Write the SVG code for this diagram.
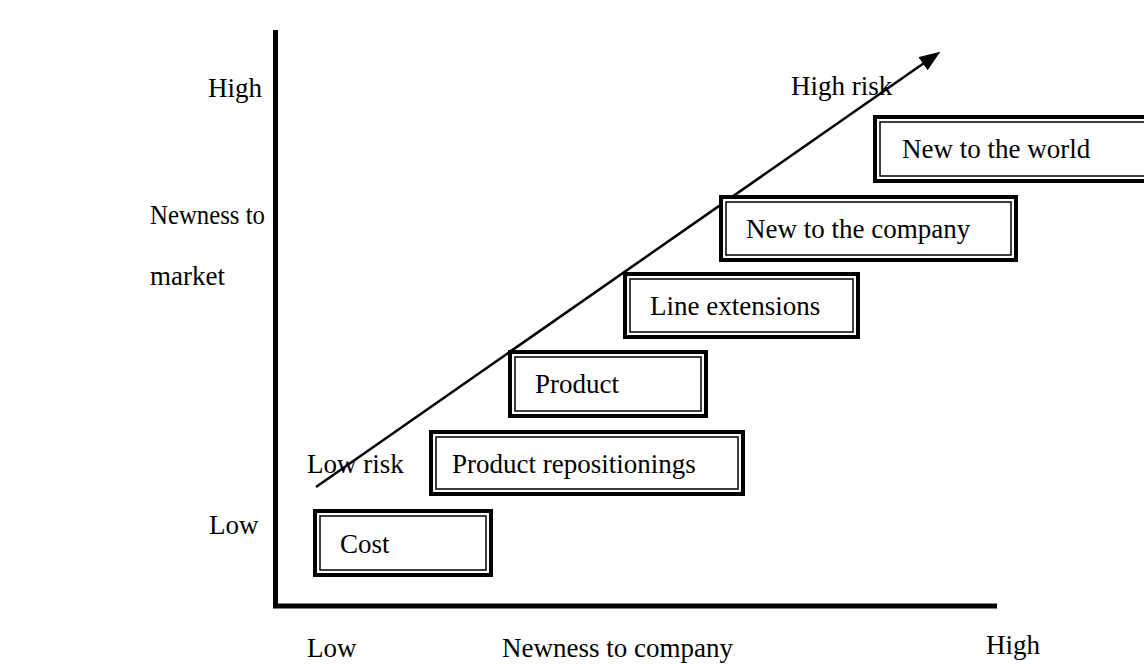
<svg xmlns="http://www.w3.org/2000/svg" width="1144" height="664" viewBox="0 0 1144 664">
  <style>
    text { font-family: "Liberation Serif", "Times New Roman", serif; font-size: 27px; fill: #000; }
    .outer { fill: #fff; stroke: #000; stroke-width: 4; }
    .inner { fill: none; stroke: #000; stroke-width: 1.5; }
    .axis { stroke: #000; stroke-width: 5; fill: none; }
    .trend { stroke: #000; stroke-width: 2.5; fill: none; }
  </style>
  <defs>
    <marker id="arrowhead" markerUnits="userSpaceOnUse" markerWidth="24" markerHeight="18" refX="17" refY="8" orient="auto">
      <path d="M0,0 L21,8 L0,16 z" fill="#000"/>
    </marker>
  </defs>
  <rect width="1144" height="664" fill="#fff"/>

  <!-- axes and axis labels -->
  <g id="axes">
    <path class="axis" d="M275.5,30 V606 H997"/>
    <text x="208" y="97">High</text>
    <text x="209" y="534">Low</text>
    <text x="150" y="224" textLength="115" lengthAdjust="spacingAndGlyphs">Newness to</text>
    <text x="150" y="285">market</text>
    <text x="307" y="657">Low</text>
    <text x="502" y="657">Newness to company</text>
    <text x="986" y="654">High</text>
  </g>

  <!-- risk trend arrow -->
  <g id="connectors">
    <line class="trend" x1="316" y1="487" x2="937" y2="54" marker-end="url(#arrowhead)"/>
    <text x="791" y="95">High risk</text>
    <text x="307" y="473">Low risk</text>
  </g>

  <!-- innovation categories: double-bordered boxes -->
  <g id="cost">
    <rect class="outer" x="315" y="511" width="176" height="64"/>
    <rect class="inner" x="320" y="516" width="166" height="54"/>
    <text x="340" y="553">Cost</text>
  </g>
  <g id="product-repositionings">
    <rect class="outer" x="431" y="432" width="312" height="62"/>
    <rect class="inner" x="436" y="437" width="302" height="52"/>
    <text x="452" y="473">Product repositionings</text>
  </g>
  <g id="product">
    <rect class="outer" x="510" y="352" width="196" height="64"/>
    <rect class="inner" x="515" y="357" width="186" height="54"/>
    <text x="535" y="393">Product</text>
  </g>
  <g id="line-extensions">
    <rect class="outer" x="625" y="274" width="233" height="63"/>
    <rect class="inner" x="630" y="279" width="223" height="53"/>
    <text x="650" y="315">Line extensions</text>
  </g>
  <g id="new-to-company">
    <rect class="outer" x="721" y="197" width="295" height="63"/>
    <rect class="inner" x="726" y="202" width="285" height="53"/>
    <text x="746" y="238">New to the company</text>
  </g>
  <g id="new-to-world">
    <rect class="outer" x="875" y="117" width="280" height="64"/>
    <rect class="inner" x="880" y="122" width="270" height="54"/>
    <text x="902" y="158">New to the world</text>
  </g>
</svg>
